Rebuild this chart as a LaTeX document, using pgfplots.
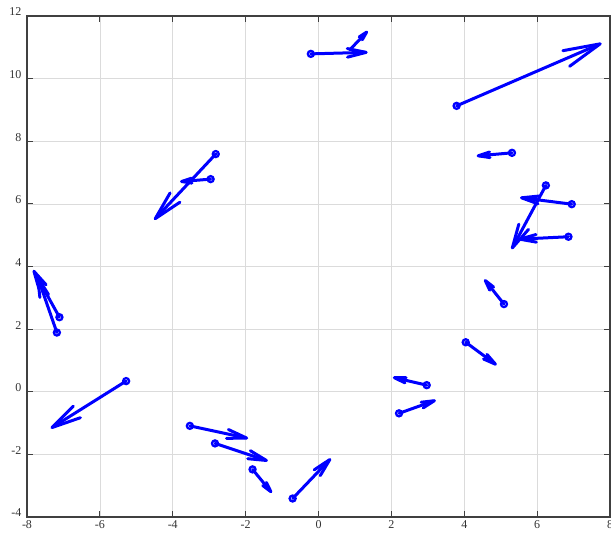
\documentclass[border=0pt]{standalone}
\usepackage{pgfplots}
\pgfplotsset{compat=1.18}
\usepackage{fontspec}
\setmainfont{Liberation Serif}
\usetikzlibrary{arrows.meta}
\definecolor{mblue}{RGB}{0,0,255}
% arrow: x0 y0 x1 y1 headlength headwidth
\newcommand{\arr}[6]{\addplot[mblue, line width=3pt, line cap=round, -{Straight Barb[length=#5pt,width=#6pt,round]}] coordinates {(#1,#2) (#3,#4)};}
\begin{document}
\begin{tikzpicture}
\begin{axis}[
  scale only axis, width=583pt, height=501pt,
  xmin=-8, xmax=8, ymin=-4, ymax=12,
  xtick={-8,-6,...,8}, ytick={-4,-2,...,12},
  grid=major, major grid style={black!14, line width=0.7pt},
  axis line style={black!75, line width=1.2pt},
  tick style={black!75, line width=1.2pt}, major tick length=6pt,
  tick align=inside,
  ticklabel style={font=\fontsize{12}{14}\selectfont, text=black!80},
  /pgf/number format/assume math mode=true,
  yticklabel style={yshift=4pt, xshift=-2pt},
]
\arr{-0.21}{10.79}{1.35}{10.84}{18.8}{8.6}
\arr{0.86}{10.92}{1.35}{11.52}{8.6}{4.2}
\arr{3.79}{9.13}{7.77}{11.13}{37}{17}
\arr{5.31}{7.63}{4.34}{7.53}{11.7}{5.6}
\arr{6.24}{6.59}{5.30}{4.55}{24}{11}
\arr{6.95}{5.99}{5.53}{6.20}{17.2}{7.9}
\arr{6.86}{4.95}{5.48}{4.87}{16.5}{7.6}
\arr{-2.82}{7.59}{-4.51}{5.49}{29}{13.5}
\arr{-2.96}{6.79}{-3.80}{6.71}{10.2}{4.9}
\arr{-7.11}{2.38}{-7.83}{3.89}{17.8}{8.2}
\arr{-7.18}{1.89}{-7.72}{3.70}{19.8}{9.1}
\arr{-5.28}{0.34}{-7.35}{-1.17}{29.4}{13.5}
\arr{-3.53}{-1.09}{-1.93}{-1.49}{19.7}{9}
\arr{-2.84}{-1.65}{-1.39}{-2.21}{18.3}{8.4}
\arr{-1.81}{-2.48}{-1.28}{-3.23}{10}{4.8}
\arr{-0.71}{-3.41}{0.34}{-2.13}{18.3}{8.4}
\arr{5.09}{2.80}{4.55}{3.59}{10.4}{5}
\arr{4.04}{1.58}{4.89}{0.85}{12.7}{5.8}
\arr{2.97}{0.21}{2.04}{0.46}{11.5}{5.3}
\arr{2.21}{-0.69}{3.22}{-0.27}{13}{6}
\addplot[only marks, mark=o, mark size=3pt, mark options={mblue, line width=2.3pt, fill=white}] coordinates {
(-0.21,10.79) (3.79,9.13) (5.31,7.63) (6.24,6.59) (6.95,5.99) (6.86,4.95)
(-2.82,7.59) (-2.96,6.79) (-7.11,2.38) (-7.18,1.89) (-5.28,0.34)
(-3.53,-1.09) (-2.84,-1.65) (-1.81,-2.48) (-0.71,-3.41)
(5.09,2.80) (4.04,1.58) (2.97,0.21) (2.21,-0.69)};
\end{axis}
\pgfresetboundingbox
\path[use as bounding box] ([shift={(-27pt,-17pt)}]current axis.south west) rectangle ([shift={(1pt,16pt)}]current axis.north east);
\end{tikzpicture}
\end{document}
